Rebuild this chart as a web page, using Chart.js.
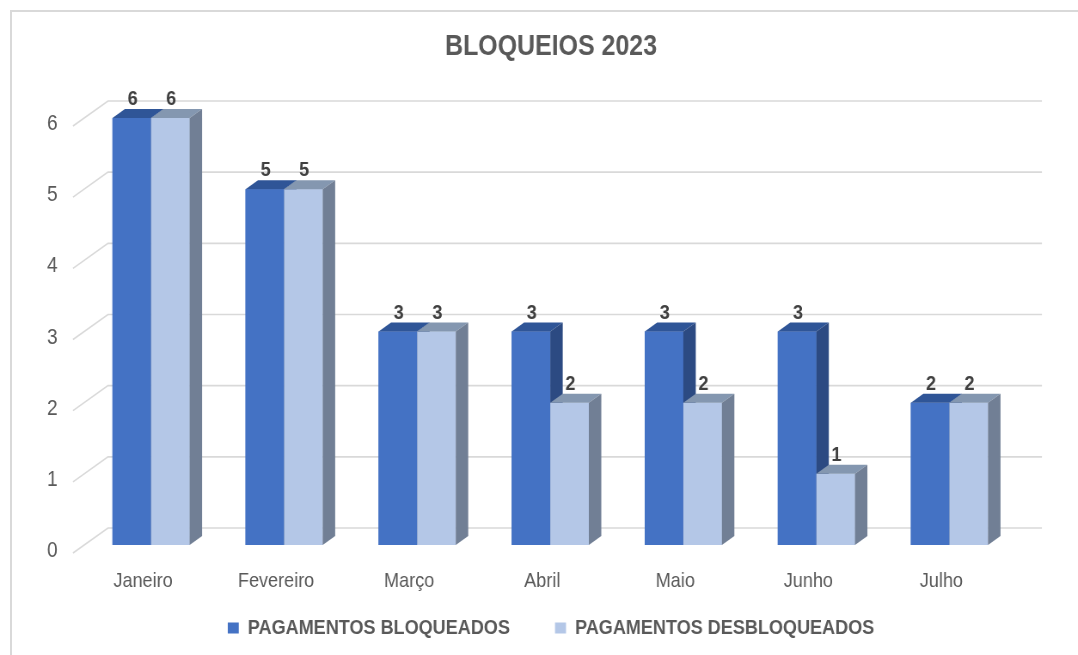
<!DOCTYPE html>
<html>
<head>
<meta charset="utf-8">
<script src="https://cdn.jsdelivr.net/npm/chart.js@4"></script>
<style>
  html, body { margin: 0; padding: 0; background: #fff; overflow: hidden; }
  #moldura { position: absolute; left: 10px; top: 10px; width: 1080px; height: 660px;
             border-left: 2px solid #d9d9d9; border-top: 2px solid #d9d9d9; }
  /* o gráfico original é "estreito": desenha mais largo e comprime na horizontal */
  #grafico { position: absolute; left: 0; top: 0; transform: scaleX(0.8596); transform-origin: 0 0; }
</style>
</head>
<body>
<div id="moldura"></div>
<canvas id="grafico" width="1254" height="655"></canvas>
<script>
// ================= DADOS =================
const meses = ["Janeiro", "Fevereiro", "Março", "Abril", "Maio", "Junho", "Julho"];
const bloqueados = [6, 5, 3, 3, 3, 3, 2];
const desbloqueados = [6, 5, 3, 2, 2, 1, 2];
const nomes = ["PAGAMENTOS BLOQUEADOS", "PAGAMENTOS DESBLOQUEADOS"];
const titulo = "BLOQUEIOS 2023";

// ================= ESTILO =================
const fonte = "'Liberation Sans', Arial, sans-serif";
const corTexto = "#595959";
const corFrente = ["#4472C4", "#B4C7E7"];
const corTopo = ["#2F5597", "#8497B0"];
const corLado = ["#2C4A82", "#717F95"];
const prof = { dx: 14.5, dy: -9 };   // profundidade das barras
const grade = { antes: 13.4, dx: 40.7, dy: -25, frente: 8, fim: 30.2 };

// ================= 3D =================
const efeito3d = {
  id: "efeito3d",
  beforeDatasetsDraw(chart) {
    const { ctx, chartArea, scales: { y } } = chart;
    ctx.save();
    ctx.strokeStyle = "#d9d9d9";
    ctx.lineWidth = 1.6;
    y.ticks.forEach(t => {
      const py = y.getPixelForValue(t.value);
      const x0 = chartArea.left - grade.antes;
      ctx.beginPath();
      ctx.moveTo(x0, py + grade.frente);
      ctx.lineTo(x0 + grade.dx, py + grade.frente + grade.dy);
      ctx.lineTo(chartArea.right + grade.fim, py + grade.frente + grade.dy);
      ctx.stroke();
    });
    ctx.restore();
  },
  afterDatasetsDraw(chart) {
    const { ctx } = chart;
    const metas = chart.data.datasets.map((ds, i) => chart.getDatasetMeta(i));
    ctx.save();
    meses.forEach((m, j) => {
      metas.forEach((meta, i) => {
        const bar = meta.data[j];
        bar.draw(ctx);
        const { x, y, base, width } = bar.getProps(["x", "y", "base", "width"], true);
        const l = x - width / 2, r = x + width / 2;
        // topo
        ctx.fillStyle = corTopo[i];
        ctx.beginPath();
        ctx.moveTo(l, y);
        ctx.lineTo(r, y);
        ctx.lineTo(r + prof.dx, y + prof.dy);
        ctx.lineTo(l + prof.dx, y + prof.dy);
        ctx.closePath();
        ctx.fill();
        // lado
        ctx.fillStyle = corLado[i];
        ctx.beginPath();
        ctx.moveTo(r, y);
        ctx.lineTo(r + prof.dx, y + prof.dy);
        ctx.lineTo(r + prof.dx, base + prof.dy);
        ctx.lineTo(r, base);
        ctx.closePath();
        ctx.fill();
      });
    });
    // rótulos de valor
    ctx.font = "bold 21px " + fonte;
    ctx.fillStyle = "#404040";
    ctx.textAlign = "center";
    ctx.textBaseline = "alphabetic";
    chart.data.datasets.forEach((ds, i) => {
      metas[i].data.forEach((bar, j) => {
        ctx.fillText(ds.data[j], bar.x + 1, bar.y - 13);
      });
    });
    ctx.restore();
  }
};

// ================= GRÁFICO =================
const ctx = document.getElementById("grafico").getContext("2d");

new Chart(ctx, {
  type: "bar",
  data: {
    labels: meses,
    datasets: [
      { label: nomes[0], data: bloqueados, backgroundColor: corFrente[0] },
      { label: nomes[1], data: desbloqueados, backgroundColor: corFrente[1] }
    ]
  },
  options: {
    responsive: false,
    animation: false,
    devicePixelRatio: 1,
    categoryPercentage: 0.58,
    barPercentage: 1,
    borderWidth: 0,
    layout: { padding: { left: 51.3, right: 23.3, top: 0, bottom: 6.5 } },
    plugins: {
      title: {
        display: true,
        text: titulo,
        color: corTexto,
        font: { family: fonte, size: 29, weight: "bold", lineHeight: 1.2 },
        padding: { top: 30, bottom: 53.2 }
      },
      legend: {
        position: "bottom",
        labels: {
          color: corTexto,
          font: { family: fonte, size: 21, weight: "bold" },
          boxWidth: 12.8,
          boxHeight: 11,
          padding: 23.3,
          generateLabels: c => Chart.defaults.plugins.legend.labels.generateLabels(c)
            .map((it, i) => (i === 0 ? { ...it, text: it.text + "     " } : it))
        }
      },
      tooltip: { enabled: false }
    },
    scales: {
      x: {
        grid: { display: false, drawTicks: false },
        border: { display: false },
        ticks: { color: corTexto, font: { family: fonte, size: 21 }, padding: 24, labelOffset: -9.3 },
        afterFit: s => { s.height = 49.2; }
      },
      y: {
        min: 0,
        max: 6,
        grid: { display: false, drawTicks: false },
        border: { display: false },
        ticks: { stepSize: 1, color: corTexto, font: { family: fonte, size: 22 }, padding: 31.4, labelOffset: 6 },
        afterFit: s => { s.width = 47; }
      },
      y2: {
        position: "right",
        grid: { display: false, drawTicks: false },
        border: { display: false },
        ticks: { display: false },
        afterFit: s => { s.width = 48.8; }
      }
    }
  },
  plugins: [efeito3d]
});
</script>
</body>
</html>
